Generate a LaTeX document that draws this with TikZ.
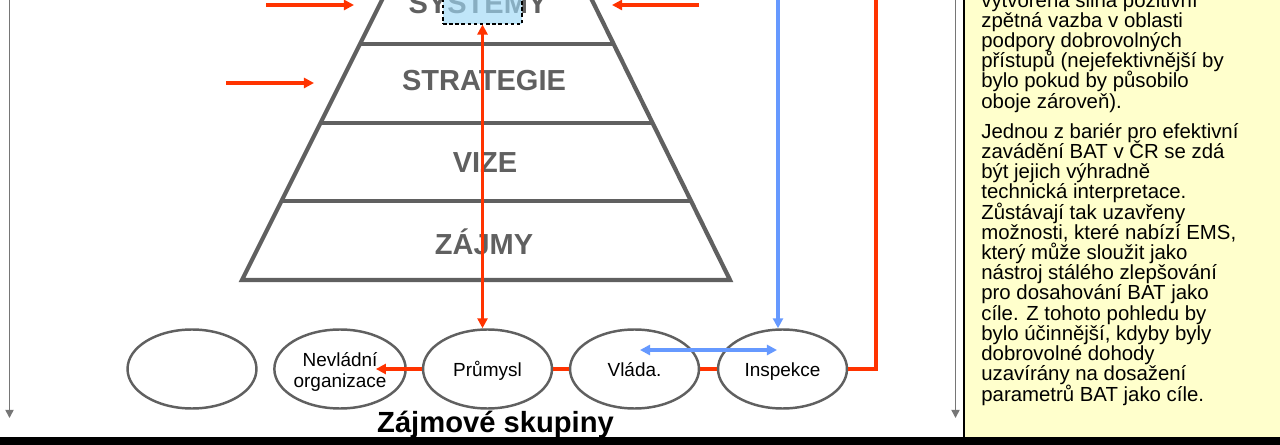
\documentclass[tikz,border=0pt]{standalone}
\usepackage{fontspec}
\setmainfont{Liberation Sans}
\usetikzlibrary{shapes.geometric,arrows.meta}
\definecolor{pyrgray}{HTML}{606060}
\definecolor{sidegray}{HTML}{767676}
\definecolor{linkred}{HTML}{FF3300}
\definecolor{linkblue}{HTML}{6699FF}
\definecolor{noteyellow}{HTML}{FFFFCC}
\definecolor{selblue}{HTML}{9ED8F6}
\newcommand\notefont{\fontsize{11.6pt}{11.5pt}\selectfont\lineskiplimit=-20pt\relax\lineskip=0pt\relax}

\begin{document}
\begin{tikzpicture}[x=0.02cm,y=-0.02cm]
    \tikzstyle{group}=[ellipse,draw=pyrgray,line width=1.4pt,fill=white,minimum width=2.58cm,minimum height=1.58cm,inner sep=0pt,align=center,
        text height=9.8pt,text depth=0.7pt,font=\fontsize{10.8pt}{12pt}\selectfont]
    \tikzstyle{level}=[inner sep=0pt,text=pyrgray,font=\fontsize{16.5pt}{18pt}\selectfont\bfseries]
    \tikzstyle{pyramid}=[draw=pyrgray,line width=2.4pt]
    \tikzstyle{red link}=[draw=linkred,line width=1.9pt,>={Triangle[length=5.7pt,width=5.7pt]}]
    \tikzstyle{blue link}=[draw=linkblue,line width=1.9pt,>={Triangle[length=5.7pt,width=5.7pt]}]
    \tikzstyle{side}=[draw=sidegray,line width=0.9pt,->,>={Triangle[length=4.6pt,width=4.6pt]}]
    \tikzstyle{note}=[inner sep=0pt,align=left,font=\notefont]

    \useasboundingbox (0,0) rectangle (1280,445);
    \clip (0,0) rectangle (1280,445);

    % Note panel on the right
    \fill[noteyellow] (964,-5) rectangle (1285,437);
    \draw[line width=0.85pt] (964,-5) -- (964,437);
    \node[note,anchor=base west] (N) at (981,401) {vytvořena silná pozitivní\\
        zpětná vazba v oblasti\\
        podpory dobrovolných\\
        přístupů (nejefektivnější by\\
        bylo pokud by působilo\\
        oboje zároveň).\\[5.7pt]
        Jednou z bariér pro efektivní\\
        zavádění BAT v ČR se zdá\\
        být jejich výhradně\\
        technická interpretace.\\
        Zůstávají tak uzavřeny\\
        možnosti, které nabízí EMS,\\
        který může sloužit jako\\
        nástroj stálého zlepšování\\
        pro dosahování BAT jako\\
        cíle. Z tohoto pohledu by\\
        bylo účinnější, kdyby byly\\
        dobrovolné dohody\\
        uzavírány na dosažení\\
        parametrů BAT jako cíle.};

    % Side lines
    \draw[side] (9.5,-5) -- (9.5,418);
    \draw[side] (955.5,-5) -- (955.5,418);

    % Draw the pyramid
    \draw[pyramid] (242,280) -- (387,-10) -- (587,-10) -- (730,280) -- cycle;
    \draw[pyramid] (281.5,201) -- (691,201);
    \draw[pyramid] (320.5,123) -- (652.6,123);
    \draw[pyramid] (360,44) -- (613.7,44);
    \node[level] (L-1) at (484,242) {ZÁJMY};
    \node[level] (L-2) at (485,163) {VIZE};
    \node[level] (L-3) at (484,81) {STRATEGIE};
    \node[level] (L-4) at (478,4) {SYSTEMY};
    \node[draw,dash pattern=on 2pt off 1.5pt,line width=0.6pt,fill=selblue,fill opacity=0.65,
        minimum width=1.58cm,minimum height=0.58cm,inner sep=0pt] (sel) at (482.5,9.5) {};

    % Draw the interest groups
    \node[group] (G-1) at (192,369) {};
    \node[group,text height=21.8pt,text depth=0.5pt] (G-2) at (340,369) {Nevládní\\organizace};
    \node[group] (G-3) at (487.5,369) {Průmysl};
    \node[group] (G-4) at (634.5,369) {Vláda.};
    \node[group] (G-5) at (782.5,369) {Inspekce};

    % Red links
    \draw[red link,->] (266,5) -- (354,5);
    \draw[red link,->] (226,83) -- (314,83);
    \draw[red link,->] (699,5) -- (612,5);
    \draw[red link,<->] (sel.south) -- (sel.south |- G-3.north);
    \coordinate (R) at (876,-5);
    \draw[red link] (R) |- (G-5.east);
    \path[red link] (G-5) edge (G-4);
    \path[red link] (G-4) edge (G-3);
    \draw[red link,->] (G-3.west) -- ([xshift=-0.62cm]G-2.east);

    % Blue links
    \coordinate (B) at (778,-5);
    \draw[blue link,->] (B) -- (B |- G-5.north);
    \draw[blue link,<->] ([shift={(5.5,-19)}]G-4.center) -- ([shift={(-5.5,-19)}]G-5.center);

    % Caption and bottom bar
    \node[anchor=base,inner sep=0pt,font=\fontsize{16.6pt}{18pt}\selectfont\bfseries] (T) at (495.5,432) {Zájmové skupiny};
    \fill[black] (0,437) rectangle (1285,450);
\end{tikzpicture}
\end{document}
